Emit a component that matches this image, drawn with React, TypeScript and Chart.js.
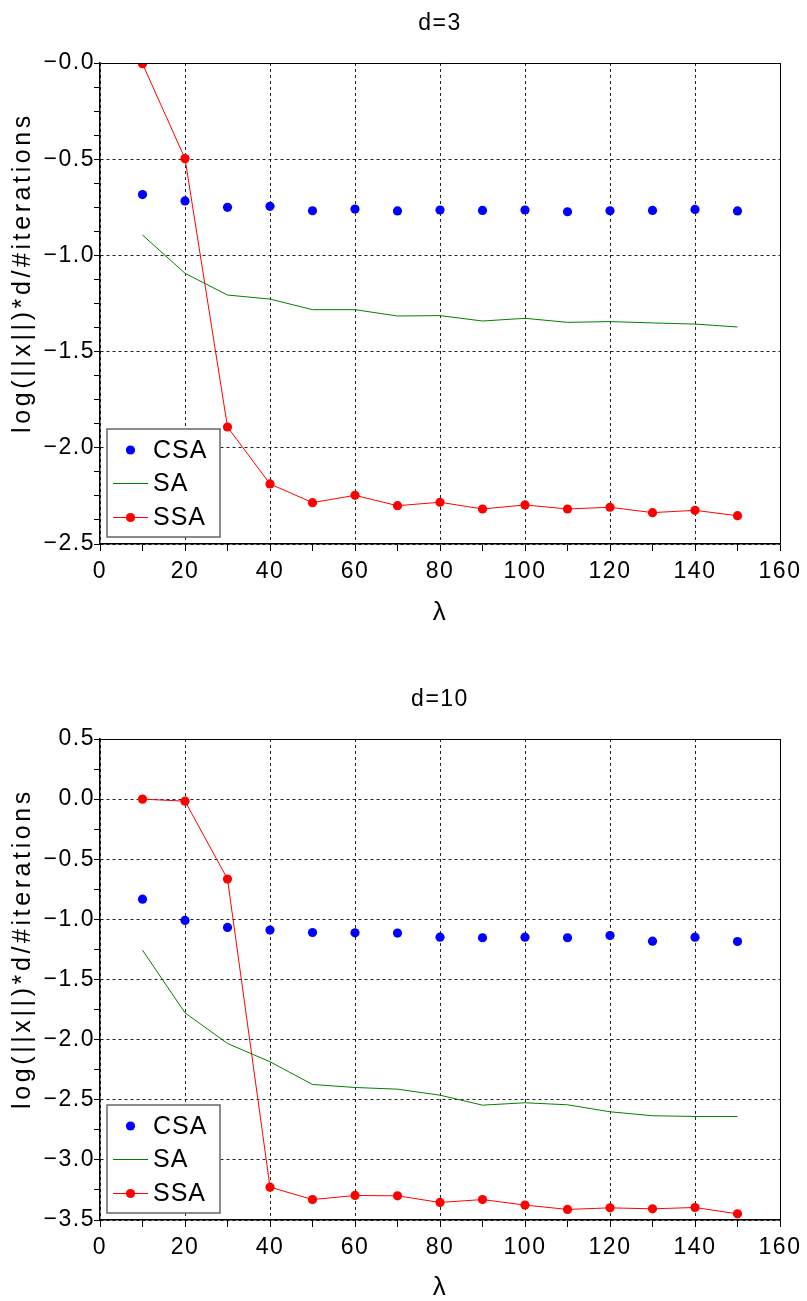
import React, { useEffect, useRef } from 'react';
import { Chart, registerables } from 'chart.js';

Chart.register(...registerables);

// ---------------- data ----------------
const LAMBDA = [10, 20, 30, 40, 50, 60, 70, 80, 90, 100, 110, 120, 130, 140, 150];

const D3_CSA = [-0.684, -0.717, -0.75, -0.745, -0.768, -0.759, -0.769, -0.764, -0.766, -0.764, -0.773, -0.768, -0.766, -0.761, -0.769];
const D3_SA = [-0.894, -1.093, -1.206, -1.227, -1.282, -1.282, -1.315, -1.313, -1.341, -1.327, -1.348, -1.344, -1.351, -1.357, -1.372];
const D3_SSA = [-0.004, -0.497, -1.892, -2.188, -2.285, -2.247, -2.301, -2.283, -2.318, -2.297, -2.318, -2.309, -2.337, -2.325, -2.353];

const D10_CSA = [-0.832, -1.009, -1.067, -1.089, -1.109, -1.112, -1.114, -1.148, -1.153, -1.148, -1.153, -1.134, -1.181, -1.148, -1.184];
const D10_SA = [-1.256, -1.777, -2.032, -2.184, -2.373, -2.398, -2.412, -2.462, -2.545, -2.525, -2.542, -2.6, -2.633, -2.639, -2.639];
const D10_SSA = [0.0, -0.017, -0.665, -3.227, -3.33, -3.296, -3.299, -3.354, -3.33, -3.376, -3.412, -3.399, -3.407, -3.396, -3.449];

const SERIES_LABELS = ['CSA', 'SA', 'SSA'];

const X_TICKS = [0, 20, 40, 60, 80, 100, 120, 140, 160];
const X_LABELS = ['0', '20', '40', '60', '80', '100', '120', '140', '160'];

const D3_Y_TICKS = [0, -0.5, -1, -1.5, -2, -2.5];
const D3_Y_LABELS = ['\u22120.0', '\u22120.5', '\u22121.0', '\u22121.5', '\u22122.0', '\u22122.5'];

const D10_Y_TICKS = [0.5, 0, -0.5, -1, -1.5, -2, -2.5, -3, -3.5];
const D10_Y_LABELS = ['0.5', '0.0', '\u22120.5', '\u22121.0', '\u22121.5', '\u22122.0', '\u22122.5', '\u22123.0', '\u22123.5'];

const X_TITLE = '\u03bb';
const Y_TITLE = 'log(||x||)*d/#iterations';

// ---------------- helpers ----------------
const FONT = "'Liberation Sans', Arial, Helvetica, sans-serif";

const findIndex = (v: number, list: number[]) => list.findIndex((t) => Math.abs(t - v) < 1e-9);

const spacingPlugin = {
  id: 'spacing',
  beforeDraw(chart: any) {
    (chart.ctx as any).letterSpacing = '1.5px';
  },
};

const framePlugin = {
  id: 'frame',
  afterDraw(chart: any) {
    const { ctx, chartArea } = chart;
    ctx.save();
    ctx.strokeStyle = '#000';
    ctx.lineWidth = 1;
    ctx.beginPath();
    ctx.moveTo(chartArea.left, Math.round(chartArea.top) + 0.5);
    ctx.lineTo(chartArea.right + 0.5, Math.round(chartArea.top) + 0.5);
    ctx.lineTo(chartArea.right + 0.5, chartArea.bottom);
    ctx.stroke();
    ctx.restore();
  },
};

const yTitlePlugin = {
  id: 'yTitle',
  afterDraw(chart: any) {
    const { ctx, chartArea } = chart;
    const cy = (chartArea.top + chartArea.bottom) / 2 - 31;
    ctx.save();
    (ctx as any).letterSpacing = '3.6px';
    ctx.translate(23, cy);
    ctx.rotate(-Math.PI / 2);
    ctx.fillStyle = '#000';
    ctx.font = `25px ${FONT}`;
    ctx.textAlign = 'center';
    ctx.textBaseline = 'middle';
    ctx.fillText(Y_TITLE, 0, 0);
    ctx.restore();
  },
};

const legendPlugin = {
  id: 'insideLegend',
  afterDraw(chart: any) {
    const { ctx, chartArea } = chart;
    const w = 113;
    const h = 108;
    const x0 = chartArea.left + 7;
    const y0 = chartArea.bottom - 7 - h;
    const rows = [21, 54.5, 88.5];
    ctx.save();
    (ctx as any).letterSpacing = '1px';
    ctx.fillStyle = '#fff';
    ctx.fillRect(x0, y0, w, h);
    ctx.strokeStyle = '#666';
    ctx.lineWidth = 1.5;
    ctx.strokeRect(x0, y0, w, h);
    chart.data.datasets.forEach((ds: any, i: number) => {
      const y = y0 + rows[i];
      if (ds.showLine) {
        ctx.strokeStyle = ds.borderColor;
        ctx.lineWidth = 1;
        ctx.beginPath();
        ctx.moveTo(x0 + 6, y);
        ctx.lineTo(x0 + 41, y);
        ctx.stroke();
      }
      if (ds.pointRadius > 0) {
        ctx.fillStyle = ds.backgroundColor;
        ctx.beginPath();
        ctx.arc(x0 + 23.5, y, ds.pointRadius, 0, Math.PI * 2);
        ctx.fill();
      }
      ctx.fillStyle = '#000';
      ctx.font = `25px ${FONT}`;
      ctx.textAlign = 'left';
      ctx.textBaseline = 'middle';
      ctx.fillText(ds.label, x0 + 46, y + 1);
    });
    ctx.restore();
  },
};

type PanelDef = {
  title: string;
  csa: number[];
  sa: number[];
  ssa: number[];
  yMin: number;
  yMax: number;
  yStep: number;
  yTicks: number[];
  yLabels: string[];
  height: number;
  titleTop: number;
  xAxisHeight: number;
  xTitlePad: number;
};

function buildConfig(p: PanelDef): any {
  const pts = (arr: number[]) => LAMBDA.map((x, i) => ({ x, y: arr[i] }));
  return {
    type: 'scatter',
    data: {
      datasets: [
        {
          label: SERIES_LABELS[0],
          data: pts(p.csa),
          showLine: false,
          pointRadius: 4.6,
          pointHoverRadius: 4.6,
          pointBorderWidth: 0,
          backgroundColor: '#0000ff',
          borderColor: '#0000ff',
        },
        {
          label: SERIES_LABELS[1],
          data: pts(p.sa),
          showLine: true,
          pointRadius: 0,
          pointHoverRadius: 0,
          borderWidth: 1,
          backgroundColor: '#008000',
          borderColor: '#008000',
        },
        {
          label: SERIES_LABELS[2],
          data: pts(p.ssa),
          showLine: true,
          pointRadius: 4.6,
          pointHoverRadius: 4.6,
          pointBorderWidth: 0,
          borderWidth: 1,
          backgroundColor: '#ff0000',
          borderColor: '#ff0000',
        },
      ],
    },
    options: {
      responsive: false,
      animation: false,
      devicePixelRatio: 1,
      events: [],
      layout: { padding: { left: 0, right: 27, top: 0, bottom: 0 } },
      plugins: {
        legend: { display: false },
        tooltip: { enabled: false },
        title: {
          display: true,
          text: p.title,
          fullSize: false,
          color: '#000',
          font: { family: FONT, size: 23, weight: 'normal', lineHeight: 1.2 },
          padding: { top: p.titleTop, bottom: 25.9 },
        },
      },
      scales: {
        x: {
          type: 'linear',
          min: 0,
          max: 160,
          afterFit: (s: any) => {
            s.height = p.xAxisHeight;
          },
          ticks: {
            stepSize: 10,
            maxTicksLimit: 100,
            autoSkip: false,
            maxRotation: 0,
            minRotation: 0,
            color: '#000',
            padding: 7,
            font: { family: FONT, size: 23, lineHeight: 1.2 },
            callback: (v: number) => {
              const i = findIndex(v, X_TICKS);
              return i >= 0 ? X_LABELS[i] : '';
            },
          },
          grid: {
            color: (c: any) =>
              c.tick && findIndex(c.tick.value, X_TICKS) >= 0 ? '#222' : 'rgba(0,0,0,0)',
            lineWidth: 1,
            tickLength: 7,
            tickColor: '#000',
            tickWidth: 1,
            tickBorderDash: [],
          },
          border: { display: true, color: '#000', width: 1.5, dash: [3, 3] },
          title: {
            display: true,
            text: X_TITLE,
            color: '#000',
            font: { family: FONT, size: 26, lineHeight: 1 },
            padding: { top: 0, bottom: p.xTitlePad },
          },
        },
        y: {
          type: 'linear',
          min: p.yMin,
          max: p.yMax,
          afterFit: (s: any) => {
            s.width = 100;
          },
          ticks: {
            stepSize: p.yStep,
            maxTicksLimit: 100,
            autoSkip: false,
            color: '#000',
            padding: -1,
            font: { family: FONT, size: 23, lineHeight: 1.2 },
            callback: (v: number) => {
              const i = findIndex(v, p.yTicks);
              return i >= 0 ? p.yLabels[i] : '';
            },
          },
          grid: {
            color: (c: any) =>
              c.tick && findIndex(c.tick.value, p.yTicks) >= 0 ? '#222' : 'rgba(0,0,0,0)',
            lineWidth: 1,
            tickLength: 6,
            tickColor: '#000',
            tickWidth: 1,
            tickBorderDash: [],
          },
          border: { display: true, color: '#000', width: 1.5, dash: [3, 3] },
          title: { display: false },
        },
      },
    },
    plugins: [spacingPlugin, framePlugin, yTitlePlugin, legendPlugin],
  };
}

function Panel({ def }: { def: PanelDef }) {
  const ref = useRef<HTMLCanvasElement | null>(null);
  useEffect(() => {
    if (!ref.current) return;
    const chart = new Chart(ref.current, buildConfig(def));
    return () => chart.destroy();
  }, [def]);
  return (
    <canvas
      ref={ref}
      width={807}
      height={def.height}
      style={{ display: 'block', width: 807, height: def.height }}
    />
  );
}

const PANELS: PanelDef[] = [
  {
    title: 'd=3',
    csa: D3_CSA,
    sa: D3_SA,
    ssa: D3_SSA,
    yMin: -2.5,
    yMax: 0,
    yStep: 0.125,
    yTicks: D3_Y_TICKS,
    yLabels: D3_Y_LABELS,
    height: 640,
    titleTop: 9.5,
    xAxisHeight: 96,
    xTitlePad: 14,
  },
  {
    title: 'd=10',
    csa: D10_CSA,
    sa: D10_SA,
    ssa: D10_SSA,
    yMin: -3.5,
    yMax: 0.5,
    yStep: 0.25,
    yTicks: D10_Y_TICKS,
    yLabels: D10_Y_LABELS,
    height: 661,
    titleTop: 45.5,
    xAxisHeight: 81,
    xTitlePad: 0,
  },
];

export default function App() {
  return (
    <div
      style={{
        position: 'absolute',
        left: 0,
        top: 0,
        width: 807,
        height: 1301,
        background: '#fff',
        overflow: 'hidden',
      }}
    >
      {PANELS.map((p) => (
        <Panel key={p.title} def={p} />
      ))}
    </div>
  );
}
